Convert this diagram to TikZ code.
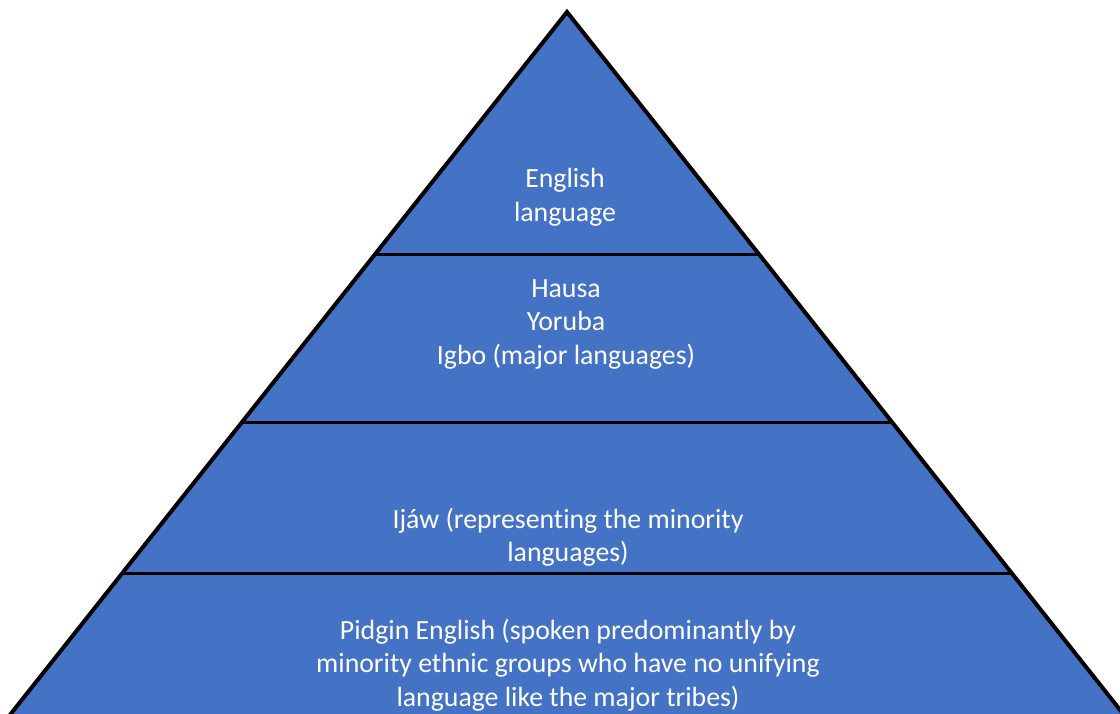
\documentclass[tikz,border=0pt]{standalone}
\usepackage{fontspec}
\setmainfont[Ligatures={NoCommon}]{Carlito}
\usepackage{tikz}
\definecolor{pyrblue}{HTML}{4472C4}

\begin{document}
\begin{tikzpicture}[x=1pt,y=-1pt]
  \useasboundingbox (0,0) rectangle (1120,714);
  \clip (0,0) rectangle (1120,714);
  \tikzset{layertext/.style={text=white,align=center,
    font=\fontsize{27.8}{33.5}\selectfont}}
  \coordinate (A) at (567,12);
  \coordinate (L) at (-2,730);
  \coordinate (R) at (1136,730);
  \fill[pyrblue] (A) -- (L) -- (R) -- cycle;
  \draw[black,line width=4pt,line join=miter] (L) -- (A) -- (R);
  % dividers between the layers
  \draw[black,line width=3pt] (375,255) -- (759,255);
  \draw[black,line width=3pt] (243,422) -- (891,422);
  \draw[black,line width=3pt] (124,573) -- (1010,573);
  \node[layertext] (top) at (565,197) {English\\language};
  \node[layertext] (major) at (566,324) {Hausa\\Yoruba\\Igbo (major languages)};
  \node[layertext] (minor) at (568,537) {Ijáw (representing the minority\\languages)};
  \node[layertext] (pidgin) at (568,665) {Pidgin English (spoken predominantly by\\minority ethnic groups who have no unifying\\language like the major tribes)};
\end{tikzpicture}
\end{document}
